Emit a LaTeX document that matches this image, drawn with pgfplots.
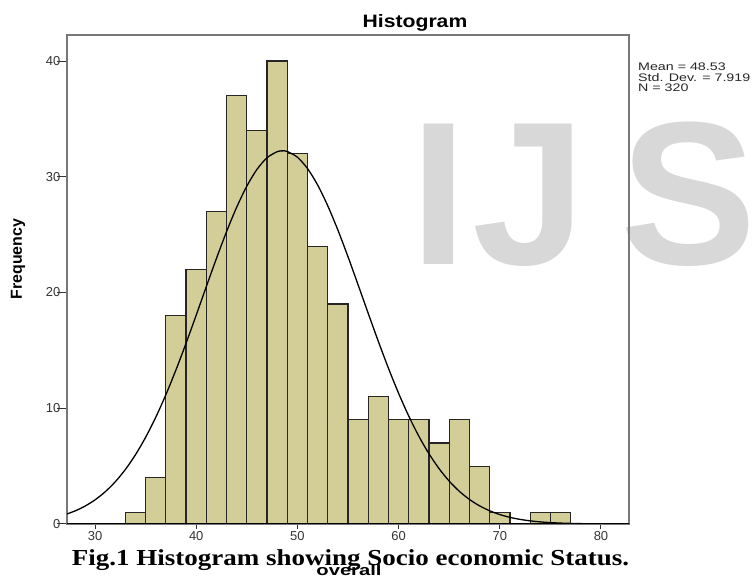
\documentclass[border=0pt]{standalone}
\usepackage{graphicx}
\usepackage{pgfplots}
\pgfplotsset{compat=1.18}
\usepackage{fontspec}
\setmainfont{Liberation Sans}
\newfontfamily\capfont{Liberation Serif}
\usetikzlibrary{backgrounds}
\definecolor{barfill}{RGB}{211,206,151}
\definecolor{wmark}{RGB}{216,216,216}
\definecolor{frame}{RGB}{120,120,120}

\begin{document}
\begin{tikzpicture}
  \begin{axis}[
      scale only axis,
      width=562bp, height=489bp,
      at={(67bp,53bp)}, anchor=south west,
      xmin=27.23, xmax=82.77,
      ymin=0, ymax=42.25,
      axis line style={draw=frame, line width=1.8bp},
      xtick={30,40,...,80},
      ytick={0,10,...,40},
      tick align=outside,
      xtick pos=left, ytick pos=left,
      xtick style={draw=black!80, line width=1bp, /pgfplots/major tick length=5bp},
      ytick style={draw=black!80, line width=1bp, /pgfplots/major tick length=10bp},
      tick label style={font=\fontsize{13}{13}\selectfont, text=black!80},
      /pgf/number format/assume math mode=true,
      yticklabel style={xshift=1bp},
    ]
    % histogram, bin width 2
    \addplot[ybar interval, fill=barfill, draw=black!85, line width=1.2bp] coordinates {
        (33,1) (35,4) (37,18) (39,22) (41,27) (43,37) (45,34) (47,40)
        (49,32) (51,24) (53,19) (55,9) (57,11) (59,9) (61,9) (63,7)
        (65,9) (67,5) (69,1) (71,0) (73,1) (75,1) (77,0)
      };
    % normal curve (mean 48.53, sd 7.919, N 320)
    \addplot[smooth, black, line width=1.3bp, no marks] coordinates {
        (27,0.800) (28,1.119) (29,1.540) (30,2.086) (31,2.781) (32,3.650)
        (33,4.712) (34,5.989) (35,7.491) (36,9.221) (37,11.170) (38,13.317)
        (39,15.629) (40,18.050) (41,20.514) (42,22.947) (43,25.265) (44,27.374)
        (45,29.190) (46,30.636) (47,31.644) (48,32.168) (48.53,32.24) (49,32.183)
        (50,31.689) (51,30.709) (52,29.289) (53,27.492) (54,25.397) (55,23.091)
        (56,20.660) (57,18.196) (58,15.771) (59,13.453) (60,11.293) (61,9.332)
        (62,7.588) (63,6.072) (64,4.783) (65,3.708) (66,2.828) (67,2.124)
        (68,1.569) (69,1.142) (70,0.817) (71,0.575) (72,0.399) (73,0.272)
        (74,0.183) (75,0.121) (76,0.079) (77,0.050) (78,0.031) (79,0.019)
        (80,0.012) (81,0.007) (82,0.004) (83,0.002)
      };
    \draw[black, line width=1.5bp] (axis cs:27.23,0) -- (axis cs:82.77,0);
  \end{axis}

  % title, stats, labels
  \node[anchor=base, inner sep=0, font=\bfseries\fontsize{18}{18}\selectfont] at (415bp,549bp)
    {\scalebox{1.18}[1]{Histogram}};
  \node[anchor=north west, inner sep=0, align=left, text=black!85,
        font=\fontsize{11}{10.5}\selectfont] at (638bp,514bp)
    {\scalebox{1.3}[1]{Mean = 48.53}\\\scalebox{1.3}[1]{Std. Dev. = 7.919}\\\scalebox{1.3}[1]{N = 320}};
  \node[rotate=90, inner sep=0, font=\bfseries\fontsize{16}{16}\selectfont] at (18bp,318bp) {Frequency};
  \node[anchor=base, inner sep=0, font=\bfseries\fontsize{15}{15}\selectfont] at (349bp,2bp)
    {\scalebox{1.35}[1]{overall}};
  \node[anchor=base, inner sep=0, font=\capfont\bfseries\fontsize{23}{23}\selectfont] at (350.5bp,12bp)
    {\scalebox{1.178}[1]{Fig.1 Histogram showing Socio economic Status.}};

  % watermark
  \begin{scope}[on background layer]
    \node[anchor=base west, inner sep=0, text=wmark, font=\bfseries\fontsize{205}{205}\selectfont] at (410bp,312bp) {I};
    \node[anchor=base west, inner sep=0, text=wmark, font=\bfseries\fontsize{205}{205}\selectfont] at (472bp,312bp) {J};
    \node[anchor=base west, inner sep=0, text=wmark, font=\bfseries\fontsize{205}{205}\selectfont] at (620bp,312bp) {S};
  \end{scope}

  \pgfresetboundingbox
  \useasboundingbox (0,0) rectangle (753bp,577bp);
\end{tikzpicture}
\end{document}
